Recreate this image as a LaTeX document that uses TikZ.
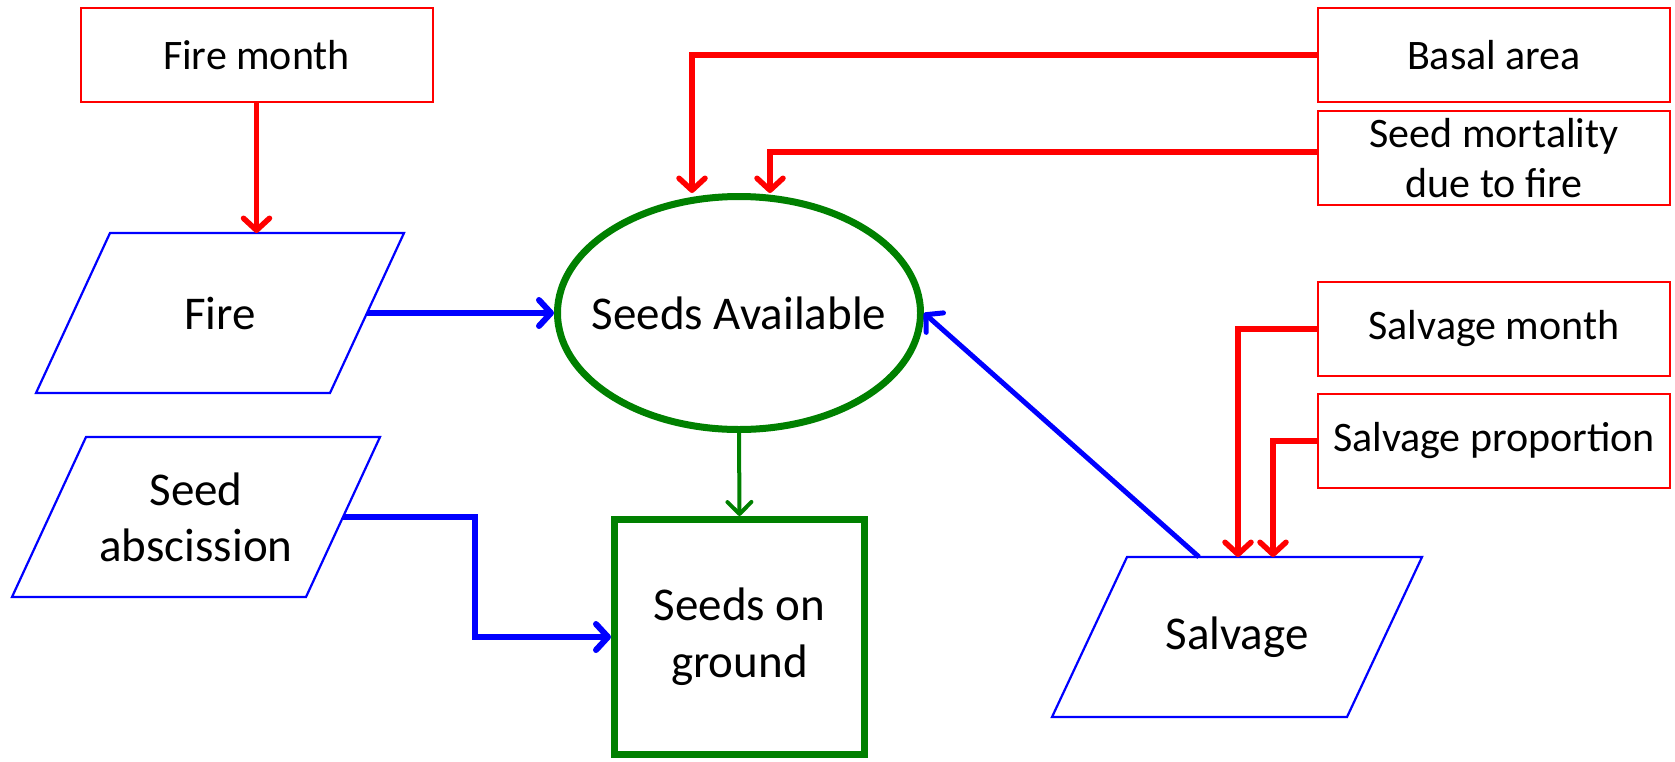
\documentclass[tikz,border=0pt]{standalone}
\usepackage{fontspec}
\setmainfont{Carlito}
\usetikzlibrary{arrows.meta,calc,shapes.geometric}
\definecolor{pgreen}{RGB}{0,128,0}
\definecolor{pred}{RGB}{255,0,0}
\definecolor{pblue}{RGB}{0,0,255}
\begin{document}
\begin{tikzpicture}[x=1pt,y=-1pt,
  inbox/.style={draw=pred, line width=2pt, minimum width=352pt, minimum height=94pt,
    inner sep=0pt, align=center, font=\fontsize{42}{50}\selectfont},
  paratext/.style={rectangle, minimum width=368pt, minimum height=160pt, inner sep=0pt,
    outer sep=0pt, align=center, font=\fontsize{47}{56}\selectfont},
  paraline/.style={draw=pblue, line width=2.2pt, line join=miter},
  redarrow/.style={draw=pred, line width=5.5pt, -{Straight Barb[length=12pt,width=26pt,round]}},
  bluearrow/.style={draw=pblue, line width=6pt, -{Straight Barb[length=12pt,width=26pt,round]}},
  greenarrow/.style={draw=pgreen, line width=4pt, -{Straight Barb[length=12pt,width=24pt,round]}}
]
\useasboundingbox (0,0) rectangle (1675,761);

% input boxes
\node[inbox] (firemonth) at (256.5,55) {Fire month};
\node[inbox] (basal) at (1494,55) {Basal area};
\node[inbox] (mort) at (1494,158) {Seed mortality\\due to fire};
\node[inbox] (salvmonth) at (1494,329) {Salvage month};
\node[inbox] (salvprop) at (1494,441) {Salvage proportion};

% parallelograms
\node[paratext] (fire) at (220,313) {Fire};
\draw[paraline] ($(fire.north west)+(74,0)$) -- (fire.north east)
  -- ($(fire.south east)+(-74,0)$) -- (fire.south west) -- cycle;
\node[paratext] (absc) at (196,517) {Seed\\abscission};
\draw[paraline] ($(absc.north west)+(74,0)$) -- (absc.north east)
  -- ($(absc.south east)+(-74,0)$) -- (absc.south west) -- cycle;
\node[paratext, minimum width=370pt] (salvage) at (1237,637) {Salvage};
\draw[paraline] ($(salvage.north west)+(75,0)$) -- (salvage.north east)
  -- ($(salvage.south east)+(-75,0)$) -- (salvage.south west) -- cycle;

% central nodes
\node[ellipse, draw=pgreen, line width=7pt, minimum width=363pt, minimum height=233pt,
  inner sep=0pt, font=\fontsize{47}{56}\selectfont] (avail) at (739,313) {\makebox[0pt]{Seeds Available}};
\node[rectangle, draw=pgreen, line width=7pt, minimum width=250pt, minimum height=235pt,
  inner sep=0pt, align=center, font=\fontsize{47}{57}\selectfont] (ground) at (739.5,637) {Seeds on\\ground};

% connectors
\draw[redarrow] (firemonth.south) -- (firemonth.south |- fire.north);
\draw[redarrow] (basal.west) -| ($(avail.north)+(-47,0)$);
\draw[redarrow] ($(mort.west)+(0,-6)$) -| ($(avail.north)+(31,0)$);
\draw[redarrow] (salvmonth.west) -| ($(salvage.north west)+(186,0)$);
\draw[redarrow] (salvprop.west) -| ($(salvage.north west)+(221,0)$);

\draw[bluearrow] ($(fire.east)+(-37,0)$) -- (avail.west);
\draw[bluearrow] ($(absc.east)+(-37,0)$) -- ++(132,0) |- (ground.west);
\draw[bluearrow, line width=5pt] ($(salvage.north west)+(147,0)$) -- (avail.east);

\draw[greenarrow] (avail.south) -- (ground.north);
\end{tikzpicture}
\end{document}
